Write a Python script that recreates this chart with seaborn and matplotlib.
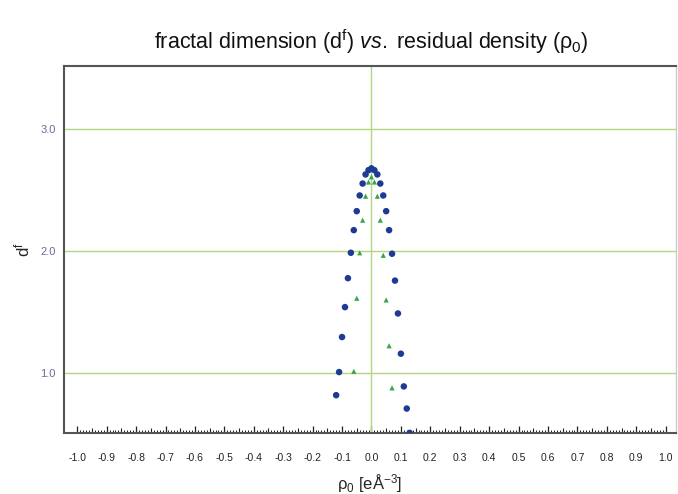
"""
Fractal dimension d^f vs. residual density rho_0 scatter.
"""

import matplotlib
matplotlib.use("Agg")
import matplotlib.pyplot as plt
import numpy as np
import pandas as pd
import seaborn as sns

# ─── Data ─────────────────────────────────────────────────────────────────────

circle_rho = [-0.12, -0.11, -0.10, -0.09, -0.08, -0.07, -0.06, -0.05, -0.04,
              -0.03, -0.02, -0.01, 0.00, 0.01, 0.02, 0.03, 0.04, 0.05, 0.06,
              0.07, 0.08, 0.09, 0.10, 0.11, 0.12, 0.13]
circle_df = [0.815, 1.005, 1.293, 1.539, 1.777, 1.986, 2.172, 2.328, 2.457,
             2.555, 2.630, 2.665, 2.680, 2.665, 2.630, 2.555, 2.457, 2.328,
             2.172, 1.978, 1.757, 1.487, 1.156, 0.887, 0.705, 0.505]

triangle_rho = [-0.06, -0.05, -0.04, -0.03, -0.02, -0.01, 0.00, 0.01, 0.02,
                0.03, 0.04, 0.05, 0.06, 0.07]
triangle_df = [1.011, 1.612, 1.986, 2.254, 2.451, 2.568, 2.610, 2.568, 2.451,
               2.254, 1.965, 1.598, 1.221, 0.875]

x_ticks = np.round(np.arange(-1.0, 1.0001, 0.1), 2)
x_tick_labels = [f"{abs(t):.1f}" if t == 0 else f"{t:.1f}" for t in x_ticks]
y_ticks = [1.0, 2.0, 3.0]
y_tick_labels = ["1.0", "2.0", "3.0"]

# ─── Style ────────────────────────────────────────────────────────────────────

sns.set_style("white")
plt.rcParams["font.family"] = ["Liberation Sans", "DejaVu Sans"]
plt.rcParams["mathtext.fontset"] = "custom"
plt.rcParams["mathtext.rm"] = "Liberation Sans"
plt.rcParams["mathtext.it"] = "Liberation Sans:italic"

BLUE = "#1d3b93"
GREEN = "#3aa54a"
GRID = "#b4d67e"
PURPLE = "#7d6394"
TICK = "#222222"

fig = plt.figure(figsize=(6.78, 4.94), dpi=100)
ax = fig.add_axes([0.0944, 0.1225, 0.9026, 0.7435])

circles = pd.DataFrame({"rho": circle_rho, "df": circle_df})
triangles = pd.DataFrame({"rho": triangle_rho, "df": triangle_df})

ax.axvline(0.0, color=GRID, lw=1.0, zorder=1)
sns.scatterplot(data=circles, x="rho", y="df", ax=ax, marker="o", s=22,
                color=BLUE, edgecolor="none", zorder=3)
sns.scatterplot(data=triangles, x="rho", y="df", ax=ax, marker="^", s=14,
                color=GREEN, edgecolor="none", zorder=3)

ax.set_xlim(-1.045, 1.035)
ax.set_ylim(0.5, 3.52)

# x ticks: major 0.1, mid 0.05, minor 0.01 – all pointing inwards
ax.set_xticks(x_ticks)
ax.set_xticklabels(x_tick_labels)
ax.set_xticks(np.round(np.arange(-1.0, 1.0001, 0.01), 2), minor=True)
ax.tick_params(axis="x", which="both", bottom=True, top=False)
ax.tick_params(axis="x", which="major", direction="in", length=5, width=0.9,
               color=TICK, labelsize=7.5, labelcolor="#222222", pad=14)
ax.tick_params(axis="x", which="minor", direction="in", length=2.3, width=0.7,
               color=TICK)
mid = ax.secondary_xaxis("bottom")
mid.set_xticks(np.round(np.arange(-0.95, 1.0, 0.1), 2))
mid.tick_params(bottom=True, direction="in", length=3.5, width=0.8,
                color=TICK, labelbottom=False)
mid.spines["bottom"].set_visible(False)

ax.set_yticks(y_ticks)
ax.set_yticklabels(y_tick_labels)
ax.tick_params(axis="y", length=0, labelsize=8, labelcolor=PURPLE, pad=6)
ax.grid(axis="y", color=GRID, lw=1.0)
ax.set_axisbelow(True)

for side in ["left", "top", "bottom"]:
    ax.spines[side].set_color("#555555")
    ax.spines[side].set_linewidth(1.5)
ax.spines["right"].set_color("#cccccc")
ax.spines["right"].set_linewidth(1.0)

ax.set_xlabel(r"$\mathrm{\rho_0}$ [eÅ$^{\mathrm{-3}}$]", fontsize=12, labelpad=7)
ax.set_ylabel(r"d$^{\mathrm{f}}$", fontsize=12, labelpad=6)

fig.text(0.548, 1 - 49 / 494,
         r"fractal dimension (d$^{\mathrm{f}}$) $\mathit{vs.}$ residual density ($\mathrm{\rho_0}$)",
         fontsize=15.5, ha="center", va="baseline", color="#111111")

plt.savefig("out.png", dpi=100)
plt.close(fig)
